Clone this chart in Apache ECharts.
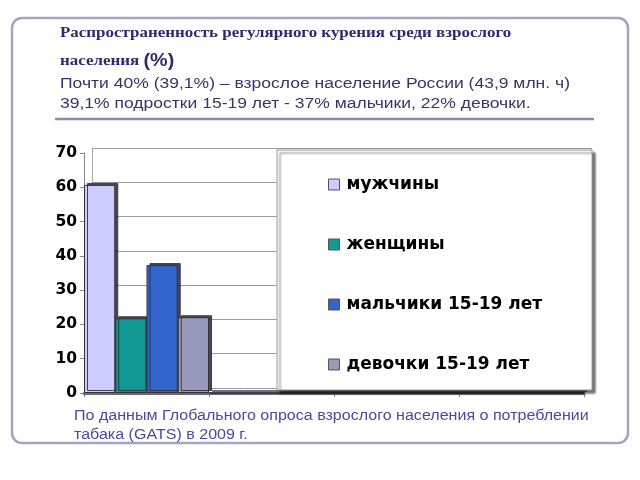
<!DOCTYPE html>
<html>
<head>
<meta charset="utf-8">
<script src="https://cdn.jsdelivr.net/npm/echarts@6/dist/echarts.min.js"></script>
<style>html,body{margin:0;padding:0;background:#fff}#c{width:640px;height:480px}</style>
</head>
<body>
<div id="c"></div>
<script>
const categories = ['', '', '', ''];
const seriesNames = ['мужчины', 'женщины', 'мальчики 15-19 лет', 'девочки 15-19 лет'];
const men = [60.7, 0, 0, 0];
const women = [21.8, 0, 0, 0];
const boys = [37.3, 0, 0, 0];
const girls = [22.1, 0, 0, 0];
const yTicks = [0, 10, 20, 30, 40, 50, 60, 70];
const titleLine1 = 'Распространенность регулярного курения среди взрослого';
const titleLine2a = 'населения ';
const titleLine2b = '(%)';
const subLine1 = 'Почти 40% (39,1%) – взрослое население России (43,9 млн. ч)';
const subLine2 = '39,1% подростки 15-19 лет - 37% мальчики, 22% девочки.';
const footLine1 = 'По данным Глобального опроса взрослого населения о потреблении';
const footLine2 = 'табака (GATS) в 2009 г.';

const colors = ['#ccccff', '#0f9a94', '#3366cc', '#9999bb'];
const seriesData = [men, women, boys, girls];

const chart = echarts.init(document.getElementById('c'), null, {renderer: 'canvas'});
const sans = '"Liberation Sans", Arial, sans-serif';
const serif = '"Liberation Serif", "Times New Roman", serif';
const wide = '"DejaVu Sans", sans-serif';
const SX = 1.13;

function txt(x, y, text, font, fill, sx) {
  return {type: 'text', x: x, y: y, scaleX: sx || SX, z: 10,
    style: {text: text, font: font, fill: fill, verticalAlign: 'top'}};
}

chart.setOption({
  animation: false,
  backgroundColor: '#fff',
  grid: [
    {left: 84, width: 500, top: 153, height: 240},
    {left: 92, width: 500, top: 148, height: 240}
  ],
  xAxis: [
    {type: 'category', gridIndex: 0, data: categories,
      axisLine: {show: true, lineStyle: {color: '#6a6a6a', width: 3}},
      axisTick: {show: true, length: 4, lineStyle: {color: '#777'}},
      axisLabel: {show: false}},
    {type: 'category', gridIndex: 1, data: categories, show: false}
  ],
  yAxis: [
    {type: 'value', gridIndex: 0, min: 0, max: 70, interval: 10,
      axisLine: {show: true, lineStyle: {color: '#888'}},
      axisTick: {show: true, length: 4, lineStyle: {color: '#888'}},
      splitLine: {show: false},
      axisLabel: {fontFamily: wide, fontWeight: 'bold', fontSize: 15.5, color: '#000', margin: 7,
        formatter: v => yTicks.includes(v) ? String(v) : ''}},
    {type: 'value', gridIndex: 1, min: 0, max: 70, interval: 10,
      axisLine: {show: true, lineStyle: {color: '#aaa'}},
      axisTick: {show: false}, axisLabel: {show: false},
      splitLine: {show: true, lineStyle: {color: '#9a9a9a', width: 1}}}
  ],
  legend: {
    data: seriesNames, orient: 'vertical', left: 323, top: 171, itemGap: 43,
    icon: 'rect', itemWidth: 11, itemHeight: 11, z: 20,
    itemStyle: {borderColor: '#555', borderWidth: 1},
    textStyle: {fontFamily: wide, fontWeight: 'bold', fontSize: 17, color: '#000', lineHeight: 16,
      padding: [0, 0, 0, 2]}
  },
  series: seriesNames.map((n, i) => ({
    name: n, type: 'bar', xAxisIndex: 0, yAxisIndex: 0, data: seriesData[i],
    barGap: '0%', barCategoryGap: '0%', z: 3,
    itemStyle: {color: colors[i], borderColor: '#333', borderWidth: 1,
      shadowColor: 'rgba(40,40,60,0.85)', shadowOffsetX: 3, shadowOffsetY: -2, shadowBlur: 0}
  })),
  graphic: [
    {type: 'rect', shape: {x: 12, y: 18, width: 616, height: 425, r: 10},
      style: {fill: 'none', stroke: '#a3a3c2', lineWidth: 2.5}, z: 1},
    txt(60, 26, titleLine1, 'bold 15px ' + serif, '#2b2b6e'),
    {type: 'text', x: 60, y: 52, scaleX: SX, z: 10,
      style: {text: '{a|' + titleLine2a + '}{b|' + titleLine2b + '}', verticalAlign: 'top',
        rich: {a: {font: 'bold 15px ' + serif, fill: '#2b2b6e', color: '#2b2b6e'},
               b: {font: 'bold 17.5px ' + sans, fill: '#2b2b6e', color: '#2b2b6e'}}}},
    txt(60, 76, subLine1, '15.5px ' + sans, '#35356a'),
    txt(60, 96, subLine2, '15.5px ' + sans, '#35356a'),
    {type: 'line', shape: {x1: 55, y1: 119, x2: 594, y2: 119}, z: 10,
      style: {stroke: '#8a8aaa', lineWidth: 2.5}},
    {type: 'rect', shape: {x: 277, y: 150, width: 315, height: 240}, z: 15,
      style: {fill: '#fff', stroke: '#999', lineWidth: 1,
        shadowColor: 'rgba(0,0,0,0.55)', shadowOffsetX: 3, shadowOffsetY: 3, shadowBlur: 2}},
    txt(74, 409, footLine1, '14px ' + sans, '#4a4aa2', 1.146),
    txt(74, 428, footLine2, '14px ' + sans, '#4a4aa2', 1.146)
  ]
});
</script>
</body>
</html>
